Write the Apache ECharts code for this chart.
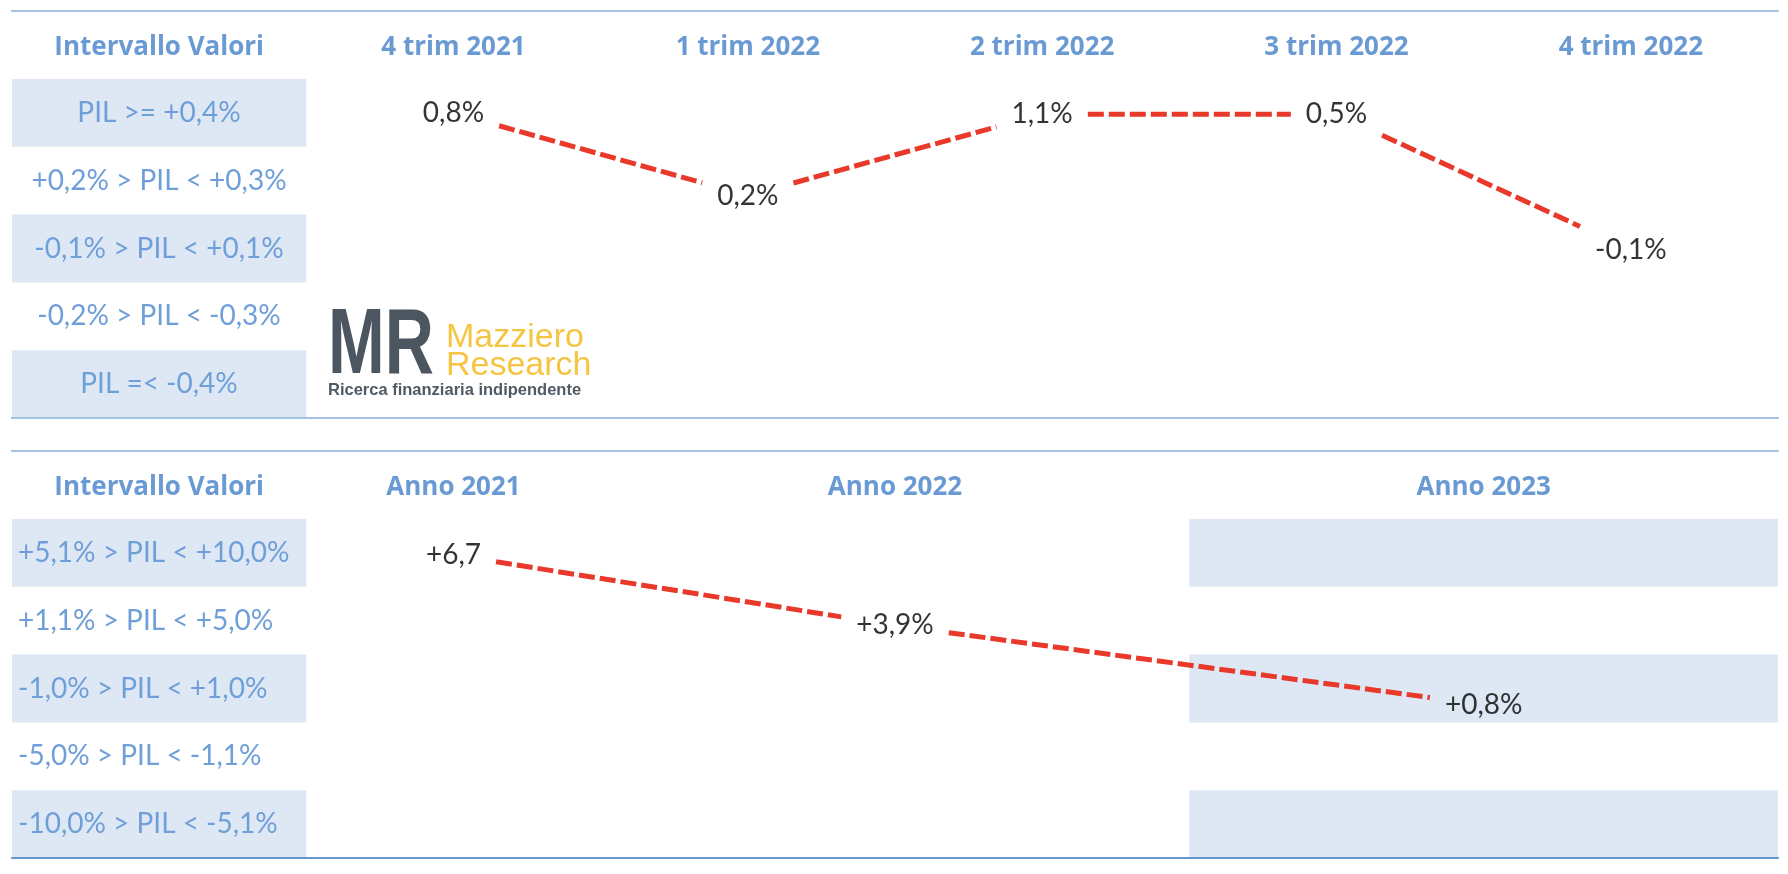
<!DOCTYPE html>
<html>
<head>
<meta charset="utf-8">
<script src="https://cdn.jsdelivr.net/npm/echarts@6/dist/echarts.min.js"></script>
<style>
html,body{margin:0;padding:0;background:#ffffff;}
#c{width:1788px;height:874px;}
</style>
</head>
<body>
<div id="c"></div>
<script>
// ---------------- DATA ----------------
// Quarterly GDP (top table)
const trimHeaders = ['Intervallo Valori', '4 trim 2021', '1 trim 2022', '2 trim 2022', '3 trim 2022', '4 trim 2022'];
const trimBands = ['PIL >= +0,4%', '+0,2% > PIL < +0,3%', '-0,1% > PIL < +0,1%', '-0,2% > PIL < -0,3%', 'PIL =< -0,4%'];
const trimValues = [0.8, 0.2, 1.1, 0.5, -0.1];
const trimLabels = ['0,8%', '0,2%', '1,1%', '0,5%', '-0,1%'];
// band level where each value is drawn (0 = bottom band edge, 5 = top band edge)
const trimLevels = [4.5, 3.28, 4.48, 4.48, 2.48];

// Annual GDP (bottom table)
const annoHeaders = ['Intervallo Valori', 'Anno 2021', 'Anno 2022', 'Anno 2023'];
const annoBands = ['+5,1% > PIL < +10,0%', '+1,1% > PIL < +5,0%', '-1,0% > PIL < +1,0%', '-5,0% > PIL < -1,1%', '-10,0% > PIL < -5,1%'];
const annoValues = [6.7, 3.9, 0.8];
const annoLabels = ['+6,7', '+3,9%', '+0,8%'];
const annoLevels = [4.47, 3.43, 2.26];

// ---------------- STYLE / LAYOUT ----------------
const FONT = 'Lato';
const HEAD_FONT = '"Open Sans"';
const C = {
  head: '#6a9ad3', band: '#6f9fd8', shade: '#dee8f5',
  rule: '#a3c2e4', ruleDark: '#6897d0', red: '#e9392a', text: '#000000'
};
const VALUE_FONT_SIZE = 28;

const panels = [
  {
    top: 79, headers: trimHeaders, headerPos: [0.5, 1.5, 2.5, 3.5, 4.5, 5.5],
    bands: trimBands, bandAlign: 'center', colCenters: [1.5, 2.5, 3.5, 4.5, 5.5],
    levels: trimLevels, labels: trimLabels, shadeCols: [[0, 1]], bottomRule: C.rule
  },
  {
    top: 519, headers: annoHeaders, headerPos: [0.5, 1.5, 3, 5],
    bands: annoBands, bandAlign: 'left', colCenters: [1.5, 3, 5],
    levels: annoLevels, labels: annoLabels, shadeCols: [[0, 1], [4, 6]], bottomRule: C.ruleDark
  }
];

const measureCtx = document.createElement('canvas').getContext('2d');
measureCtx.font = VALUE_FONT_SIZE + 'px ' + FONT;
function halfGap(s) { return measureCtx.measureText(s).width / 2 + 15; }

const grid = [], xAxis = [], yAxis = [], series = [];

panels.forEach((p, i) => {
  grid.push({ left: 12, right: 10, top: p.top, height: 339, outerBoundsMode: 'none' });

  const mainX = xAxis.length;
  xAxis.push({
    gridIndex: i, type: 'value', min: 0, max: 6, position: 'top', z: 6,
    axisLine: { show: true, lineStyle: { color: C.rule, width: 2 } },
    axisTick: { show: false }, splitLine: { show: false },
    axisLabel: {
      customValues: p.headerPos,
      formatter: v => { const k = p.headerPos.findIndex(h => Math.abs(h - v) < 1e-6); return k >= 0 ? p.headers[k] : ''; },
      color: C.head, fontFamily: HEAD_FONT, fontWeight: 'bold', fontSize: 26,
      margin: 31, verticalAlign: 'middle'
    }
  });
  xAxis.push({
    gridIndex: i, type: 'value', min: 0, max: 6, position: 'bottom', z: 6,
    axisLine: { show: true, lineStyle: { color: p.bottomRule, width: 2 } },
    axisTick: { show: false }, splitLine: { show: false }, axisLabel: { show: false }
  });
  xAxis.push({
    gridIndex: i, type: 'value', min: 0, max: 6, position: 'top', offset: 68, z: 6,
    axisLine: { show: true, lineStyle: { color: C.rule, width: 2 } },
    axisTick: { show: false }, splitLine: { show: false }, axisLabel: { show: false }
  });

  yAxis.push({
    gridIndex: i, type: 'value', min: 0, max: 5, z: 6,
    axisLine: { show: false }, axisTick: { show: false }, splitLine: { show: false },
    axisLabel: {
      customValues: [4.5, 3.5, 2.5, 1.5, 0.5],
      formatter: v => p.bands[Math.round(4.5 - v)] || '',
      color: C.band, fontFamily: FONT, fontSize: 28,
      align: p.bandAlign, verticalAlign: 'middle',
      margin: p.bandAlign === 'center' ? -147 : -6
    }
  });

  // shaded cells
  const areas = [];
  p.shadeCols.forEach(c => {
    [[4, 5], [2, 3], [0, 1]].forEach(b => {
      areas.push([{ xAxis: c[0], yAxis: b[0] }, { xAxis: c[1], yAxis: b[1] }]);
    });
  });
  series.push({
    type: 'line', xAxisIndex: mainX, yAxisIndex: i, data: [], z: 1,
    markArea: { silent: true, itemStyle: { color: C.shade }, data: areas }
  });

  // dashed connectors between value labels
  const segs = [];
  const gaps = [];
  for (let k = 0; k < p.levels.length - 1; k++) {
    segs.push([p.colCenters[k], p.levels[k], p.colCenters[k + 1], p.levels[k + 1]]);
    gaps.push([halfGap(p.labels[k]), halfGap(p.labels[k + 1])]);
  }
  series.push({
    type: 'custom', xAxisIndex: mainX, yAxisIndex: i, z: 2, silent: true,
    encode: { x: [0, 2], y: [1, 3] },
    data: segs,
    renderItem: (params, api) => {
      const p0 = api.coord([api.value(0), api.value(1)]);
      const p1 = api.coord([api.value(2), api.value(3)]);
      const g = gaps[params.dataIndex];
      const dx = p1[0] - p0[0], dy = p1[1] - p0[1];
      const a = g[0] / dx, b = 1 - g[1] / dx;
      return {
        type: 'line',
        shape: { x1: p0[0] + dx * a, y1: p0[1] + dy * a, x2: p0[0] + dx * b, y2: p0[1] + dy * b },
        style: { stroke: C.red, lineWidth: 5, lineDash: [16, 5], lineCap: 'butt' }
      };
    }
  });

  // value labels
  series.push({
    type: 'scatter', xAxisIndex: mainX, yAxisIndex: i, z: 3, silent: true,
    symbolSize: 1, itemStyle: { color: 'rgba(0,0,0,0)' },
    data: p.levels.map((lv, k) => [p.colCenters[k], lv, p.labels[k]]),
    label: {
      show: true, position: 'inside', formatter: q => q.data[2],
      color: C.text, fontFamily: FONT, fontSize: VALUE_FONT_SIZE
    }
  });
});

const chart = echarts.init(document.getElementById('c'));
chart.setOption({
  animation: false,
  backgroundColor: '#ffffff',
  grid, xAxis, yAxis, series,
  graphic: [
    { type: 'text', x: 328, y: 348, scaleX: 0.74, z: 10,
      style: { text: 'MR', font: 'bold 92px "Liberation Sans"', fill: '#4b5661', align: 'left', verticalAlign: 'middle' } },
    { type: 'text', x: 446, y: 338, z: 10,
      style: { text: 'Mazziero', font: '34px "Liberation Sans"', fill: '#f5c542', align: 'left', verticalAlign: 'middle' } },
    { type: 'text', x: 446, y: 366, z: 10,
      style: { text: 'Research', font: '34px "Liberation Sans"', fill: '#f5c542', align: 'left', verticalAlign: 'middle' } },
    { type: 'text', x: 328, y: 390, z: 10,
      style: { text: 'Ricerca finanziaria indipendente', font: 'bold 16.5px "Liberation Sans"', fill: '#4f5a64', align: 'left', verticalAlign: 'middle' } }
  ]
});
</script>
</body>
</html>
